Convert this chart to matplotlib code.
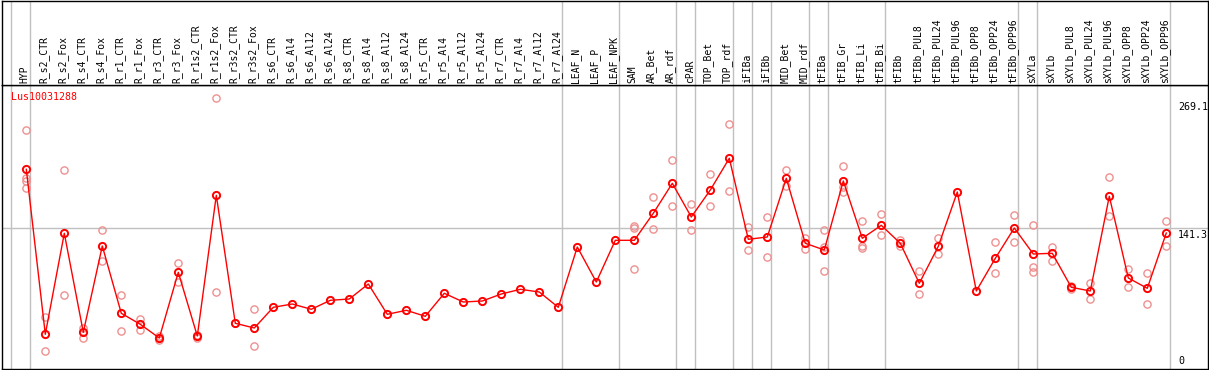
import matplotlib
matplotlib.use("Agg")
import matplotlib.pyplot as plt
import numpy as np

# sample names (header labels)
samples = [
    "HYP", "R_s2_CTR", "R_s2_Fox", "R_s4_CTR", "R_s4_Fox", "R_r1_CTR", "R_r1_Fox",
    "R_r3_CTR", "R_r3_Fox", "R_r1s2_CTR", "R_r1s2_Fox", "R_r3s2_CTR", "R_r3s2_Fox",
    "R_s6_CTR", "R_s6_Al4", "R_s6_Al12", "R_s6_Al24", "R_s8_CTR", "R_s8_Al4",
    "R_s8_Al12", "R_s8_Al24", "R_r5_CTR", "R_r5_Al4", "R_r5_Al12", "R_r5_Al24",
    "R_r7_CTR", "R_r7_Al4", "R_r7_Al12", "R_r7_Al24", "LEAF_N", "LEAF_P", "LEAF_NPK",
    "SAM", "AR_Bet", "AR_rdf", "cPAR", "TOP_Bet", "TOP_rdf", "iFIBa", "iFIBb",
    "MID_Bet", "MID_rdf", "tFIBa", "tFIB_Gr", "tFIB_Li", "tFIB_Bi", "tFIBb",
    "tFIBb_PUL8", "tFIBb_PUL24", "tFIBb_PUL96", "tFIBb_OPP8", "tFIBb_OPP24",
    "tFIBb_OPP96", "sXYLa", "sXYLb", "sXYLb_PUL8", "sXYLb_PUL24", "sXYLb_PUL96",
    "sXYLb_OPP8", "sXYLb_OPP24", "sXYLb_OPP96",
]

# mean expression per sample
means = [
    199.7, 34.7, 135.7, 36.7, 123.0, 55.7, 44.7, 31.0, 96.7, 33.0, 173.7, 45.7, 41.0,
    61.7, 65.0, 59.7, 68.7, 70.0, 85.0, 54.7, 58.7, 52.7, 75.7, 67.0, 68.0, 75.0,
    79.7, 77.0, 61.7, 122.0, 87.0, 128.7, 128.7, 155.7, 185.7, 152.0, 179.0, 210.7,
    129.7, 132.0, 190.7, 125.7, 119.0, 188.0, 130.7, 143.7, 125.7, 85.7, 122.7,
    177.0, 78.0, 110.7, 141.0, 115.0, 115.7, 81.7, 78.0, 172.7, 91.0, 80.7, 136.0,
]

# individual replicates per sample
replicates = [
    [238.7, 191.0, 188.5, 180.7], [51.7, 18.0], [198.7, 73.7], [40.7, 31.3],
    [138.7, 107.7], [73.7, 37.7], [50.3, 39.3], [33.0, 28.7], [106.0, 87.3],
    [34.0, 31.0], [270.7, 76.7], [45.7], [59.7, 22.7],
    [], [], [], [], [], [], [], [], [], [], [], [], [], [], [], [],
    [], [], [],
    [143.0, 141.5, 100.0], [172.0, 140.0], [208.7, 163.0], [165.0, 138.7],
    [194.7, 163.0], [244.7, 178.0], [142.0, 118.7], [152.0, 112.0], [199.0, 183.0],
    [131.0, 119.7], [138.7, 122.3, 98.0], [202.7, 182.3, 177.3],
    [148.0, 123.3, 120.7], [154.7, 133.7], [129.0, 123.3], [97.7, 74.7],
    [130.7, 114.7], [], [], [126.7, 95.7], [153.7, 127.3],
    [143.7, 102.0, 97.3], [122.0, 108.3], [83.0, 80.5], [86.3, 70.3],
    [191.7, 152.7], [100.0, 82.0], [96.0, 64.7], [147.7, 122.7],
]

# group separators (drawn after these sample indices)
separators = [-1, 0, 28, 31, 34, 35, 37, 38, 39, 41, 42, 45, 52, 53, 60]

gene = "Lus10031288"
ytick_values = [269.1, 141.3, 0]

W, H = 1209, 370
fig = plt.figure(figsize=(W / 100, H / 100), dpi=100, facecolor="white")

x_left, x_right = 2, 1207.5
y_sep, y_bot = 85, 369
x0, dx = 26.3, 19.0
xlim = ((x_left - x0) / dx, (x_right - x0) / dx)

ax = fig.add_axes([x_left / W, (H - y_bot) / H, (x_right - x_left) / W, (y_bot - y_sep) / H])
hdr = fig.add_axes([x_left / W, (H - y_sep) / H, (x_right - x_left) / W, (y_sep - 0.5) / H])

for a in (ax, hdr):
    a.set_xlim(*xlim)
    a.set_xticks([])
    a.set_yticks([])
    for s in a.spines.values():
        s.set_linewidth(1.0)
        s.set_color("black")

ax.set_ylim(0, y_bot - y_sep)
hdr.set_ylim(0, 1)

mono = "DejaVu Sans Mono"
sep_off = 0.22
for s in separators:
    ax.axvline(s + sep_off, color="#c0c0c0", lw=1.0, zorder=1)
    hdr.axvline(s + sep_off, color="#c0c0c0", lw=1.0, zorder=1)

ax.axhline(141.3, color="#c0c0c0", lw=1.0, zorder=1)

xs = np.arange(len(samples))
for i, name in enumerate(samples):
    hdr.text(i - 0.08, 2 / 84, name, rotation=90, ha="center", va="bottom",
             fontsize=7.0, family=mono, color="black")

# replicates
for i, reps in enumerate(replicates):
    if reps:
        ax.plot([i] * len(reps), reps, linestyle="none", marker="o", markersize=5.2,
                markerfacecolor="none", markeredgecolor="#ee9090", markeredgewidth=1.0,
                zorder=2)

ax.plot(xs, means, color="#ff0000", lw=1.0, zorder=3)
ax.plot(xs, means, linestyle="none", marker="o", markersize=5.2, markerfacecolor="none",
        markeredgecolor="#ff0000", markeredgewidth=1.4, zorder=4)

ax.text(9 / (x_right - x_left), 1 - (97 - y_sep) / (y_bot - y_sep), gene,
        transform=ax.transAxes, ha="left", va="center", fontsize=7.2, family=mono,
        color="#ff0000")

for v in ytick_values:
    if v == 0:
        ax.text(xlim[1] - (x_right - 1178) / dx, 3, "0", ha="left", va="bottom",
                fontsize=7.2, family=mono, color="black")
    else:
        ax.text(xlim[1] - (x_right - 1178) / dx, v - 2, f"{v:.1f}", ha="left", va="top",
                fontsize=7.2, family=mono, color="black")

fig.savefig("out.png", dpi=100, facecolor="white")
